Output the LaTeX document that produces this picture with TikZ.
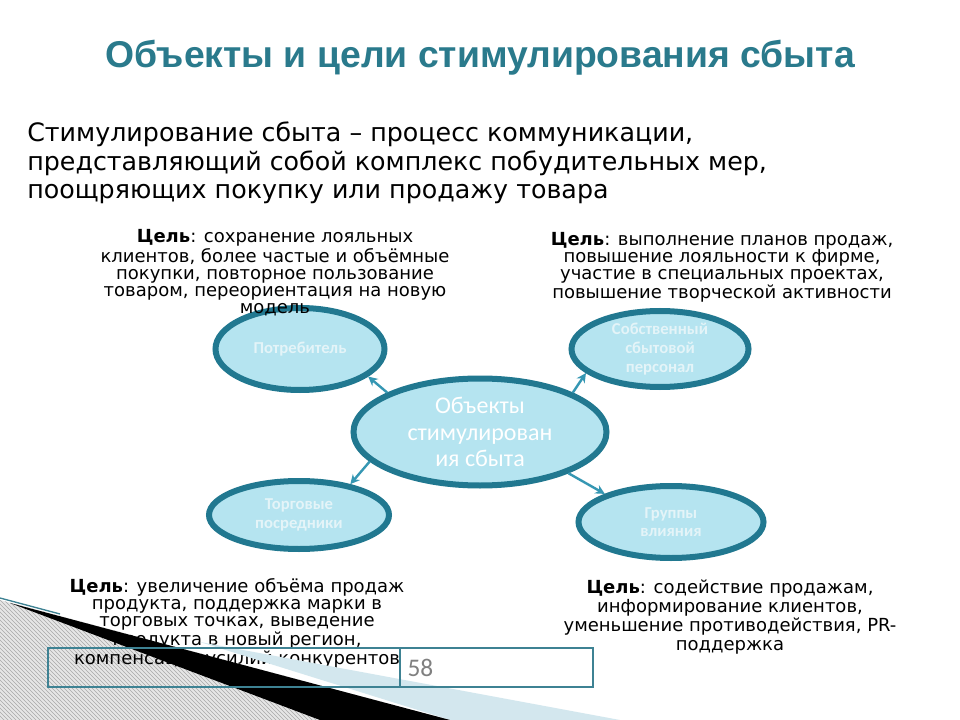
\documentclass[tikz,border=0pt]{standalone}
\usepackage{fontspec}
\setmainfont{DejaVu Sans}
\newfontfamily\titlefont{Liberation Sans}
\newfontfamily\calfont{Carlito}
\usetikzlibrary{arrows.meta,patterns,shapes.geometric}
\definecolor{titlec}{HTML}{2A7A8C}
\definecolor{ringc}{HTML}{217890}
\definecolor{fillc}{HTML}{B5E4F0}
\definecolor{arrc}{HTML}{3597B3}
\definecolor{lbl}{HTML}{E4F4F8}
\definecolor{lblue}{HTML}{D3E7EE}
\definecolor{boxc}{HTML}{3E8293}
\definecolor{hatchc}{HTML}{A8A8A8}
\definecolor{hatchbg}{HTML}{E6E6E6}
\begin{document}
\begin{tikzpicture}[x=0.75pt,y=-0.75pt,
  obj/.style={ellipse, draw=ringc, line width=4.5pt, fill=fillc, inner sep=0pt,
    text=lbl, font=\calfont\bfseries\fontsize{12.5}{14}\selectfont, align=center},
  arr/.style={draw=arrc, line width=1.8pt, -{Stealth[length=7pt,width=7pt]}},
  goal/.style={align=center, font=\fontsize{13.5}{12.9}\selectfont, inner sep=0pt},
]
\useasboundingbox (0,0) rectangle (960,720);
\fill[white] (0,0) rectangle (960,720);

% title and definition
\node[font=\titlefont\bfseries\fontsize{28}{32}\selectfont, text=titlec] (title) at (480,58) {Объекты и цели стимулирования сбыта};
\node[anchor=west, align=left, inner sep=0pt, font=\fontsize{19}{21.2}\selectfont] (defn) at (27,163)
  {Стимулирование сбыта – процесс коммуникации,\\представляющий собой комплекс побудительных мер,\\поощряющих покупку или продажу товара};

% decoration (hatched part)
\fill[hatchbg] (0,600) -- (450,720) -- (0,720) -- cycle;
\fill[pattern=north west lines, pattern color=hatchc] (0,600) -- (450,720) -- (0,720) -- cycle;

% ellipses
\node[obj, minimum width=126.75pt, minimum height=61.5pt] (p) at (300,349) {Потребитель};
\node[obj, minimum width=132.75pt, minimum height=57pt] (s) at (660,349) {Собственный\\сбытовой\\персонал};
\node[obj, minimum width=135pt, minimum height=51pt] (t) at (299,515) {Торговые\\посредники};
\node[obj, minimum width=138.75pt, minimum height=54pt] (g) at (671,522) {Группы\\влияния};
\node[obj, minimum width=189.75pt, minimum height=80.25pt, text=white,
  font=\calfont\fontsize{18}{20}\selectfont] (c) at (480,432) {Объекты\\стимулирован\\ия сбыта};

% connectors
\draw[arr] (c.157) -- (p.-22);
\draw[arr] (c.23) -- (s.-162);
\draw[arr] (c.195) -- (t.31);
\draw[arr] (c.-25) -- (g.157);

% goals
\node[goal] (gp) at (275,273) {\textbf{Цель}: сохранение лояльных\\клиентов, более частые и объёмные\\покупки, повторное пользование\\товаром, переориентация на новую\\модель};
\node[goal] (gs) at (722,267) {\textbf{Цель}: выполнение планов продаж,\\повышение лояльности к фирме,\\участие в специальных проектах,\\повышение творческой активности};
\node[goal] (gt) at (237,623) {\textbf{Цель}: увеличение объёма продаж\\продукта, поддержка марки в\\торговых точках, выведение\\продукта в новый регион,\\компенсация усилий конкурентов};
\node[goal, font=\fontsize{13.5}{14.2}\selectfont] (gg) at (730,617) {\textbf{Цель}: содействие продажам,\\информирование клиентов,\\уменьшение противодействия, PR-\\поддержка};

% decoration stripes
\fill[lblue] (200,642) -- (620,720) -- (450,720) -- cycle;
\fill[black] (10,603) -- (450,720) -- (320,720) -- cycle;
\draw[boxc, line width=1pt] (0,598) -- (60,614);

% footer box
\node[draw=boxc, line width=1.1pt, minimum width=264pt, minimum height=29pt, inner sep=0pt] (fl) at (224,667.5) {};
\node[draw=boxc, line width=1.1pt, minimum width=144.75pt, minimum height=29pt, inner sep=0pt] (fr) at (496.5,667.5) {};
\node[anchor=west, text=gray, font=\calfont\fontsize{19}{20}\selectfont, inner sep=0pt] (num) at ([xshift=6pt]fr.west) {58};
\end{tikzpicture}
\end{document}
